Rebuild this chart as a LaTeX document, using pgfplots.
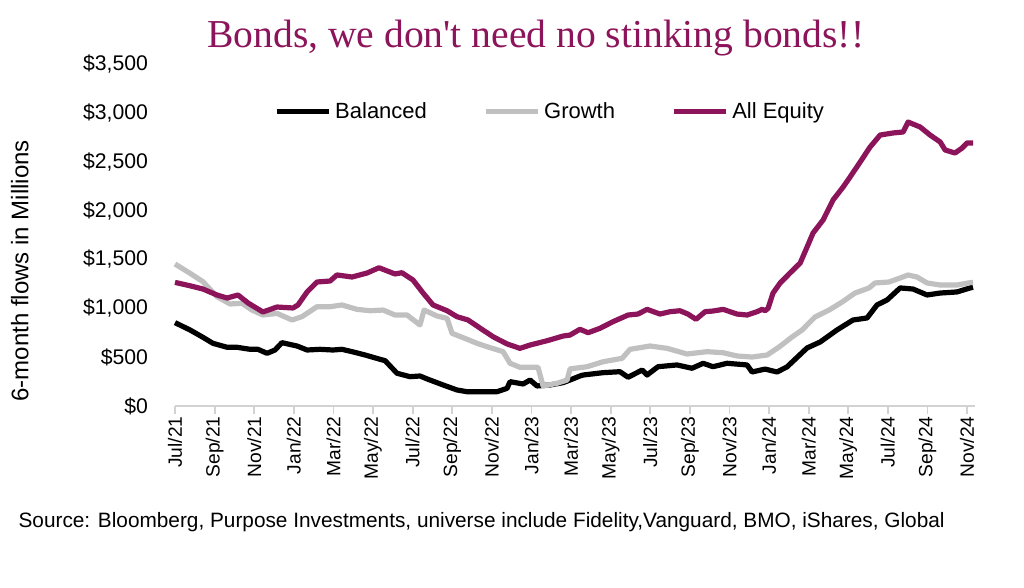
\documentclass[border=0pt]{standalone}
\usepackage{pgfplots}
\pgfplotsset{compat=1.18}
\usepackage{fontspec}
\setmainfont{Liberation Sans}
\newfontfamily\titlefont{Liberation Serif}

\definecolor{eqpurple}{RGB}{140,20,90}
\definecolor{growgray}{RGB}{192,192,192}
\definecolor{axgray}{RGB}{210,210,210}

% 6-month flows, x = months since Jul/21
\pgfplotstableread{
m v
0 853
0.76 778
1.41 703
1.92 641
2.63 601
3.13 601
3.79 580
4.19 580
4.65 539
5.05 573
5.40 648
6.16 614
6.67 573
7.32 580
7.98 573
8.43 580
8.94 556
9.6 522
10.35 478
10.61 464
11.21 335
11.87 300
12.37 307
12.78 273
13.54 215
14.24 164
14.75 146
15.56 146
16.26 146
16.77 181
16.92 249
17.58 225
17.93 266
18.28 205
18.94 215
19.6 239
19.95 266
20.45 307
20.61 317
21.62 341
22.47 351
22.88 294
23.59 368
23.84 317
24.39 402
25.35 420
26.11 386
26.67 437
27.17 402
27.88 437
28.89 420
29.14 348
29.8 378
30.4 348
30.9 399
31.92 594
32.58 655
33.43 778
34.24 880
34.95 901
35.45 1034
35.96 1085
36.62 1208
37.27 1197
37.98 1136
38.64 1156
39.49 1167
40.15 1208
40.3 1215
}\balanced

\pgfplotstableread{
m v
0 1453
0.76 1358
1.41 1272
2.12 1119
2.78 1044
3.38 1051
3.89 982
4.44 931
5.15 948
5.91 880
6.41 914
7.17 1016
7.83 1016
8.43 1034
9.19 989
9.85 975
10.51 982
11.11 931
11.72 931
12.37 829
12.58 982
13.23 921
13.74 897
13.99 744
14.75 683
15.25 641
15.76 607
16.57 556
16.92 437
17.42 396
18.33 396
18.59 205
19.29 232
19.8 266
19.95 380
20.81 402
21.62 453
22.58 488
22.98 580
23.99 614
24.85 590
25.86 532
26.87 556
27.68 545
28.38 512
29.14 501
29.9 522
30.51 604
31.16 706
31.67 778
32.32 911
33.03 982
33.69 1064
34.34 1156
35.05 1208
35.35 1259
36.06 1269
36.62 1310
37.02 1341
37.47 1320
37.98 1259
38.64 1238
39.49 1238
40.15 1262
40.3 1265
}\growth

\pgfplotstableread{
m v
0 1265
0.76 1230
1.41 1197
2.12 1136
2.63 1105
3.18 1136
3.69 1054
4.44 962
5.15 1013
5.96 1003
6.21 1034
6.67 1167
7.17 1269
7.83 1279
8.18 1341
8.94 1320
9.7 1361
10.3 1415
11.11 1351
11.46 1364
12.02 1289
12.53 1156
13.03 1034
13.74 975
14.24 914
14.8 880
15.4 798
16.06 709
16.77 635
17.42 590
17.93 624
18.79 668
19.6 716
19.95 726
20.45 785
20.86 750
21.46 795
22.12 863
22.88 931
23.38 941
23.84 989
24.49 941
25.0 965
25.5 975
25.9 941
26.31 887
26.77 965
27.17 972
27.68 989
28.38 941
28.89 931
29.39 965
29.65 989
29.8 975
29.95 1000
30.2 1156
30.56 1259
31.06 1361
31.57 1463
31.92 1627
32.22 1770
32.73 1904
33.23 2108
33.74 2241
34.09 2343
34.6 2497
35.1 2650
35.61 2773
36.26 2794
36.77 2804
37.02 2906
37.63 2855
38.13 2773
38.64 2702
38.89 2620
39.39 2589
39.75 2640
40.0 2692
40.3 2692
}\equity

\begin{document}
\begin{tikzpicture}
\begin{axis}[
  scale only axis,
  width=400pt, height=171pt,
  xmin=0, xmax=40.4,
  ymin=0, ymax=3500,
  axis x line*=bottom,
  axis y line*=left,
  y axis line style={draw=none},
  x axis line style={draw=axgray, line width=0.9pt},
  ytick style={draw=none},
  xtick style={draw=axgray, line width=0.9pt},
  tick align=outside,
  major tick length=4pt,
  xtick={0,2,...,40},
  xticklabels={Jul/21,Sep/21,Nov/21,Jan/22,Mar/22,May/22,Jul/22,Sep/22,Nov/22,Jan/23,Mar/23,May/23,Jul/23,Sep/23,Nov/23,Jan/24,Mar/24,May/24,Jul/24,Sep/24,Nov/24},
  xticklabel style={rotate=90, anchor=east, font=\fontsize{9.6}{11}\selectfont, inner sep=1pt},
  ytick={0,500,...,3500},
  yticklabels={\$0,\$500,{\$1,000},{\$1,500},{\$2,000},{\$2,500},{\$3,000},{\$3,500}},
  yticklabel style={font=\fontsize{10.6}{12}\selectfont, xshift=-6pt},
  ylabel={6-month flows in Millions},
  ylabel style={at={(axis description cs:-0.194,0.395)}, anchor=center, font=\fontsize{12}{14}\selectfont},
  title={Bonds, we don't need no stinking bonds!!},
  title style={at={(axis description cs:0.451,1.04)}, anchor=center, font=\titlefont\fontsize{19.8}{22}\selectfont, text=eqpurple},
  legend columns=3,
  legend style={at={(axis description cs:0.47,0.86)}, anchor=center, draw=none, fill=none,
    font=\fontsize{11}{13}\selectfont, inner sep=0pt,
    /tikz/every even column/.append style={column sep=26pt}},
  legend image code/.code={\draw[#1] (0pt,0pt) -- (26pt,0pt);},
  no markers,
  /pgf/number format/assume math mode=true,
  clip=false,
]
\addplot[black, line width=2.6pt, line join=round] table[x=m, y=v] {\balanced};
\addlegendentry{Balanced}
\addplot[growgray, line width=2.6pt, line join=round] table[x=m, y=v] {\growth};
\addlegendentry{Growth}
\addplot[eqpurple, line width=2.6pt, line join=round] table[x=m, y=v] {\equity};
\addlegendentry{All Equity}
\node[anchor=west, font=\fontsize{10.4}{12}\selectfont, inner sep=0pt] at (axis description cs:-0.196,-0.339)
  {Source: Bloomberg, Purpose Investments, universe include Fidelity,Vanguard, BMO, iShares, Global};
\end{axis}
\pgfresetboundingbox
\path (-87.5pt,-91pt) rectangle (424.5pt,203pt);
\end{tikzpicture}
\end{document}
